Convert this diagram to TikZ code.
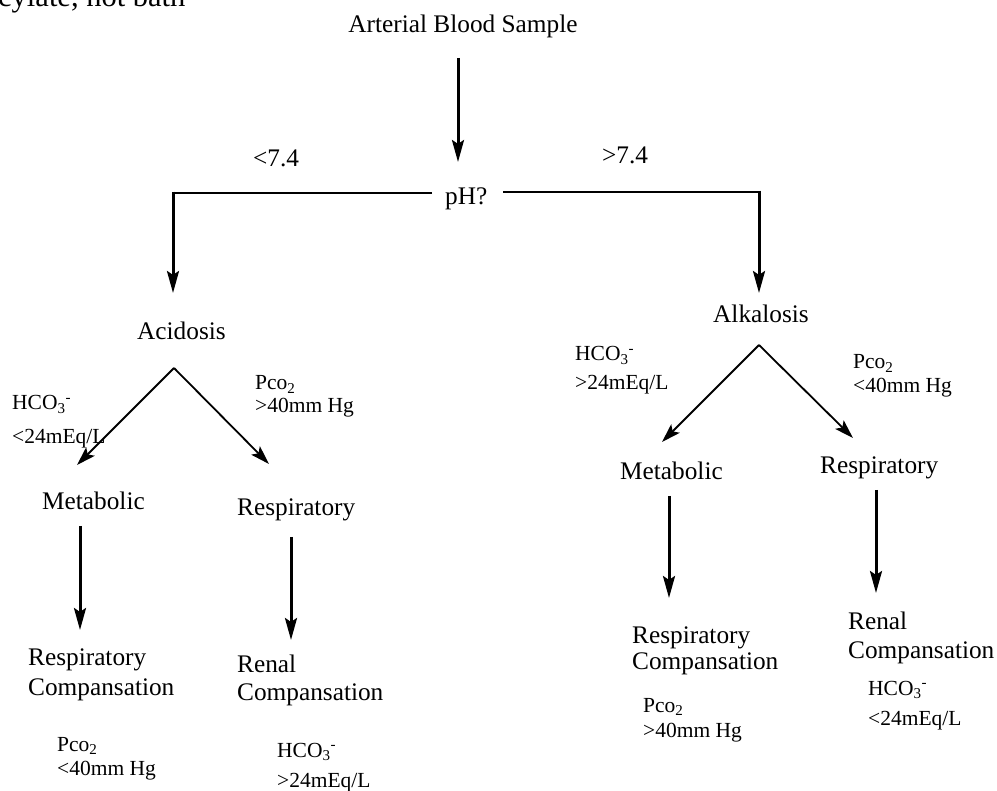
\documentclass[tikz,border=0pt]{standalone}
\usepackage{fontspec}
\setmainfont{Liberation Serif}
\usetikzlibrary{arrows.meta}
\tikzset{
  big/.style={font=\fontsize{25.3}{28}\selectfont, inner sep=0pt, anchor=base west},
  small/.style={font=\fontsize{21.5}{24}\selectfont, inner sep=0pt, anchor=base west},
  varrow/.style={line width=3pt, -{Stealth[length=22pt,width=12pt,inset=4pt]}},
  darrow/.style={line width=1.8pt, -{Stealth[length=19pt,width=12pt,inset=4pt]}},
  hline/.style={line width=2.6pt}
}
\newcommand{\hco}{HCO\textsubscript{3}\textsuperscript{-}}
\newcommand{\pco}{Pco\textsubscript{2}}
\begin{document}
\begin{tikzpicture}[x=1pt,y=1pt]
\useasboundingbox (0,0) rectangle (997,-791);
\clip (0,0) rectangle (997,-791);
\node[inner sep=0pt, anchor=base west, font=\fontsize{30.5}{32}\selectfont] (cut) at (-2,-7) {cylate, not bath};

\node[big, anchor=base] (abs) at (463,-33) {Arterial Blood Sample};
\node[big] (lt) at (253,-167) {<7.4};
\node[big] (gt) at (602,-164) {>7.4};
\node[big] (ph) at (445,-205) {pH?};
\node[big] (acid) at (137,-340) {Acidosis};
\node[big] (alk) at (713,-323) {Alkalosis};

% arrow to pH
\coordinate (a0s) at (458,-58);
\coordinate (a0e) at (458,-162);
\draw[varrow] (a0s) -- (a0e);

% branches from pH
\coordinate (phL) at (432,-193);
\coordinate (cL) at (173,-193);
\coordinate (tL) at (173,-293);
\coordinate (phR) at (503,-192);
\coordinate (cR) at (759,-192);
\coordinate (tR) at (759,-293);
\draw[hline] (phL) -- (cL);
\draw[varrow] ([yshift=1.3pt]cL) -- (tL);
\draw[hline] (phR) -- (cR);
\draw[varrow] ([yshift=1.3pt]cR) -- (tR);

% acidosis tree
\coordinate (apA) at (174,-368);
\coordinate (aM) at (77,-465);
\coordinate (aR) at (269,-464);
\draw[darrow] (apA) -- (aM);
\draw[darrow] (apA) -- (aR);
\node[small] (h1) at (12,-410) {\hco};
\node[small] (h1v) at (12,-444) {<24mEq/L};
\node[small] (p1) at (255,-390) {\pco};
\node[small] (p1v) at (255,-413) {>40mm Hg};
\node[big] (metA) at (42,-510) {Metabolic};
\node[big] (resA) at (237,-516) {Respiratory};

% alkalosis tree
\coordinate (apK) at (759,-345);
\coordinate (kM) at (662,-442);
\coordinate (kR) at (853,-438);
\draw[darrow] (apK) -- (kM);
\draw[darrow] (apK) -- (kR);
\node[small] (h2) at (575,-361) {\hco};
\node[small] (h2v) at (575,-390) {>24mEq/L};
\node[small] (p2) at (853,-369) {\pco};
\node[small] (p2v) at (853,-393) {<40mm Hg};
\node[big] (metK) at (620,-480) {Metabolic};
\node[big] (resK) at (820,-474) {Respiratory};

% vertical arrows to compensation
\coordinate (v1s) at (80,-526);  \coordinate (v1e) at (80,-630);
\coordinate (v2s) at (291,-537); \coordinate (v2e) at (291,-640);
\coordinate (v3s) at (669,-496); \coordinate (v3e) at (669,-598);
\coordinate (v4s) at (876,-490); \coordinate (v4e) at (876,-593);
\draw[varrow] (v1s) -- (v1e);
\draw[varrow] (v2s) -- (v2e);
\draw[varrow] (v3s) -- (v3e);
\draw[varrow] (v4s) -- (v4e);

% bottom left
\node[big] (rc1) at (28,-665) {Respiratory};
\node[big] (rc1b) at (28,-695) {Compansation};
\node[big] (rn1) at (237,-672) {Renal};
\node[big] (rn1b) at (237,-700) {Compansation};
\node[small] (p3) at (57,-751) {\pco};
\node[small] (p3v) at (57,-775) {<40mm Hg};
\node[small] (h3) at (277,-757) {\hco};
\node[small] (h3v) at (277,-787) {>24mEq/L};

% bottom right
\node[big] (rc2) at (632,-643) {Respiratory};
\node[big] (rc2b) at (632,-670) {Compansation};
\node[big] (rn2) at (848,-630) {Renal};
\node[big] (rn2b) at (848,-658) {Compansation};
\node[small] (p4) at (643,-712) {\pco};
\node[small] (p4v) at (643,-737) {>40mm Hg};
\node[small] (h4) at (868,-695) {\hco};
\node[small] (h4v) at (868,-725) {<24mEq/L};
\end{tikzpicture}
\end{document}
